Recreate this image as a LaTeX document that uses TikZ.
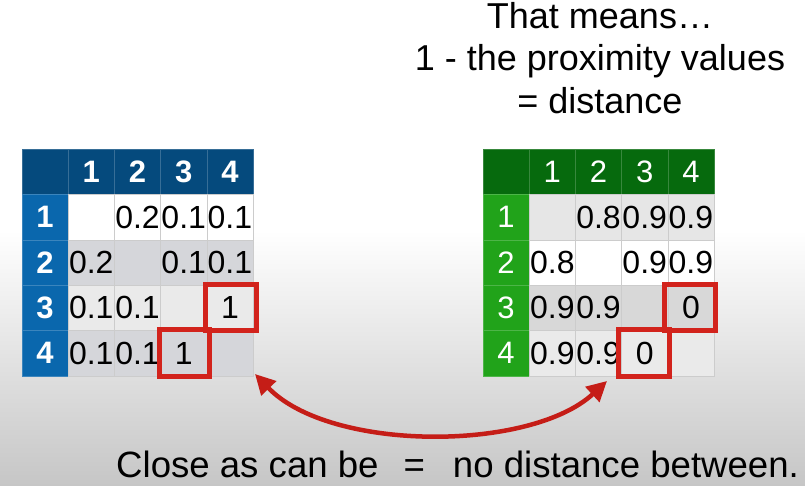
\documentclass[tikz,border=0pt]{standalone}
\usepackage{fontspec}
\setmainfont{Liberation Sans}
\usetikzlibrary{positioning,calc,arrows.meta}

\definecolor{headblue}{HTML}{054A7D}
\definecolor{rowblue}{HTML}{0A67AD}
\definecolor{headgreen}{HTML}{066A0D}
\definecolor{rowgreen}{HTML}{21A31A}
\definecolor{rowgray}{HTML}{D5D6DA}
\definecolor{rowlight}{HTML}{EAEAEA}
\definecolor{rowmid}{HTML}{D8D8D8}
\definecolor{rowpale}{HTML}{E6E6E6}
\definecolor{boxred}{HTML}{D2231C}
\definecolor{arrowred}{HTML}{C51D17}
\definecolor{bggray}{HTML}{C6C6C6}

\begin{document}
\begin{tikzpicture}[x=1pt,y=-1pt,
  cell/.style={minimum width=46.2pt,minimum height=45.4pt,inner sep=0pt,
    draw=black!20,font=\fontsize{32}{32}\selectfont},
  headcell/.style={cell,text=white,font=\fontsize{31}{31}\selectfont},
  redbox/.style={draw=boxred,line width=5pt},
  bigtext/.style={inner sep=0pt,font=\fontsize{36}{42.5}\selectfont}]

  \useasboundingbox (0,0) rectangle (805,486);
  \fill[white] (0,0) rectangle (805,230);
  \shade[top color=white,bottom color=bggray] (0,230) rectangle (805,486);

  \node[bigtext, align=center, anchor=north] (title) at (600,2)
    {That means…\\1 - the proximity values\\= distance};

  % proximity table
  \node[headcell, fill=headblue, draw=headblue!80!white] (L-0-0) at ({22+46.2*0.5},{149+45.4*0.5}) {};
  \foreach \c in {1,...,4}
    \node[headcell, fill=headblue, draw=headblue!80!white] (L-0-\c) at ({22+46.2*(\c+0.5)},{149+45.4*0.5}) {\textbf{\c}};
  \foreach \r/\rowfill/\vals in {1/white/{{},0.2,0.1,0.1}, 2/rowgray/{0.2,{},0.1,0.1},
                                 3/rowlight/{0.1,0.1,{},1}, 4/rowgray/{0.1,0.1,1,{}}}{
    \node[headcell, fill=rowblue, draw=rowblue!80!white] (L-\r-0) at ({22+46.2*0.5},{149+45.4*(\r+0.5)}) {\textbf{\r}};
    \foreach \v [count=\c] in \vals
      \node[cell, fill=\rowfill] (L-\r-\c) at ({22+46.2*(\c+0.5)},{149+45.4*(\r+0.5)}) {\v};
  }

  % distance table
  \node[headcell, fill=headgreen, draw=headgreen!80!white] (R-0-0) at ({483+46.2*0.5},{149+45.4*0.5}) {};
  \foreach \c in {1,...,4}
    \node[headcell, fill=headgreen, draw=headgreen!80!white] (R-0-\c) at ({483+46.2*(\c+0.5)},{149+45.4*0.5}) {\c};
  \foreach \r/\rowfill/\vals in {1/rowpale/{{},0.8,0.9,0.9}, 2/white/{0.8,{},0.9,0.9},
                                 3/rowmid/{0.9,0.9,{},0}, 4/rowlight/{0.9,0.9,0,{}}}{
    \node[headcell, fill=rowgreen, draw=rowgreen!80!white] (R-\r-0) at ({483+46.2*0.5},{149+45.4*(\r+0.5)}) {\r};
    \foreach \v [count=\c] in \vals
      \node[cell, fill=\rowfill] (R-\r-\c) at ({483+46.2*(\c+0.5)},{149+45.4*(\r+0.5)}) {\v};
  }

  \draw[redbox] ($(L-3-4.north west)+(-1,-1)$) rectangle ($(L-3-4.south east)+(3,0)$);
  \draw[redbox] ($(L-4-3.north west)+(-1,-1)$) rectangle ($(L-4-3.south east)+(2,0)$);
  \draw[redbox] ($(R-3-4.north west)+(-3,-1)$) rectangle ($(R-3-4.south east)+(1,0)$);
  \draw[redbox] ($(R-4-3.north west)+(-3,-1)$) rectangle ($(R-4-3.south east)+(1,0)$);

  \coordinate (lend) at (255,374);
  \coordinate (rend) at (607,381);
  \draw[arrowred, line width=4.5pt, {Triangle[length=20pt,width=20pt]}-{Triangle[length=20pt,width=20pt]}]
    (lend) .. controls (330,452) and (530,452) .. (rend);

  \node[bigtext, font=\fontsize{36.6}{42.5}\selectfont, anchor=base west] (caption) at (116,477)
    {Close as can be\hspace{25pt}=\hspace{28pt}no distance between.};

\end{tikzpicture}
\end{document}
